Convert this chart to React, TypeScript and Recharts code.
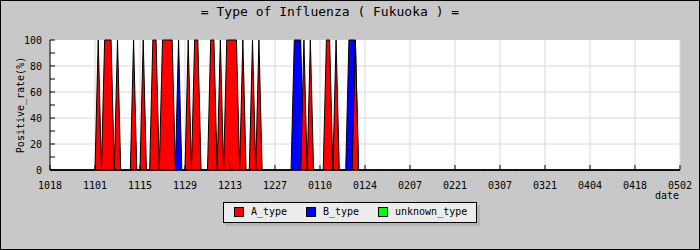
import React from 'react';
import { ComposedChart, Area, XAxis, YAxis, CartesianGrid } from 'recharts';

// days counted from 10/18
const tickDays = [0, 14, 28, 42, 56, 70, 84, 98, 112, 126, 140, 154, 168, 182, 196];
const tickLabels = ['1018', '1101', '1115', '1129', '1213', '1227', '0110', '0124', '0207', '0221', '0307', '0321', '0404', '0418', '0502'];

const aTypeDays = [15, 17, 18, 19, 21, 26, 29, 32, 33, 35, 36, 37, 38, 43, 45, 46, 50, 51, 53, 55, 56, 57, 58, 60, 63, 65, 79, 81, 86, 87, 89, 95];
const aTypeRates = [100, 100, 100, 100, 100, 100, 100, 100, 100, 100, 100, 100, 100, 100, 100, 100, 100, 100, 100, 100, 100, 100, 100, 100, 100, 100, 100, 100, 100, 100, 100, 100];
const bTypeDays = [40, 76, 77, 78, 93, 94, 95];
const bTypeRates = [100, 100, 100, 100, 100, 100, 100];
const unknownDays: number[] = [];
const unknownRates: number[] = [];

const yTicks = [0, 10, 20, 30, 40, 50, 60, 70, 80, 90, 100];
const yGrid = [20, 40, 60, 80];
const LAST_DAY = 196;

const FONT = '"DejaVu Sans Mono", monospace';

const rateOn = (days: number[], rates: number[], d: number) => {
  const i = days.indexOf(d);
  return i >= 0 ? rates[i] : 0;
};

const chartData = Array.from({ length: LAST_DAY + 1 }, (_, d) => ({
  day: d,
  A_type: rateOn(aTypeDays, aTypeRates, d),
  B_type: rateOn(bTypeDays, bTypeRates, d),
  unknown_type: rateOn(unknownDays, unknownRates, d),
}));

const legendItems = [
  { name: 'A_type', color: '#ff0000', box: 10, text: 27 },
  { name: 'B_type', color: '#0000ff', box: 82, text: 99 },
  { name: 'unknown_type', color: '#00ff00', box: 154, text: 171 },
];

// grid lines only at the labelled values (minor ticks stay tick marks)
const hLines = ({ offset }: any) => yGrid.map((v) => offset.top + offset.height * (1 - v / 100));
const vLines = ({ offset }: any) => tickDays.slice(1).map((d) => offset.left + (offset.width * d) / LAST_DAY);

const App: React.FC = () => {
  return (
    <div style={{ position: 'relative', width: 700, height: 250, background: '#c8c8c8', fontFamily: FONT }}>
      <style>{'body{margin:0}'}</style>
      <div style={{ position: 'absolute', left: 130, width: 400, top: 4, textAlign: 'center', fontSize: 13, lineHeight: '16px', color: '#000' }}>
        = Type of Influenza ( Fukuoka ) =
      </div>
      <div style={{ position: 'absolute', left: 0, top: 0 }}>
        <ComposedChart width={700} height={250} data={chartData} margin={{ top: 40, right: 20, bottom: 50, left: 0 }}>
          <CartesianGrid stroke="#d8d8d8" fill="#ffffff" horizontalCoordinatesGenerator={hLines} verticalCoordinatesGenerator={vLines} />
          <XAxis
            dataKey="day"
            type="number"
            domain={[0, LAST_DAY]}
            ticks={tickDays}
            tickFormatter={(v: number) => tickLabels[tickDays.indexOf(v)] ?? ''}
            interval={0}
            height={30}
            tickSize={-5}
            tickMargin={17}
            stroke="#000"
            tick={{ fill: '#000', fontSize: 10, fontFamily: FONT }}
            label={{ value: 'date', position: 'insideBottomRight', offset: 1, fill: '#000', fontSize: 10, fontFamily: FONT }}
          />
          <YAxis
            type="number"
            domain={[0, 100]}
            ticks={yTicks}
            interval={0}
            tickFormatter={(v: number) => (v % 20 === 0 ? String(v) : '')}
            width={50}
            tickSize={-5}
            tickMargin={13}
            stroke="#000"
            tick={{ fill: '#000', fontSize: 10, fontFamily: FONT }}
            label={{ value: 'Positive_rate(%)', angle: -90, position: 'center', dx: -5, fill: '#000', fontSize: 10, fontFamily: FONT }}
          />
          <Area type="linear" dataKey="B_type" stroke="#000" strokeWidth={1} fill="#0000ff" fillOpacity={1} isAnimationActive={false} dot={false} activeDot={false} />
          <Area type="linear" dataKey="A_type" stroke="#000" strokeWidth={1} fill="#ff0000" fillOpacity={1} isAnimationActive={false} dot={false} activeDot={false} />
          <Area type="linear" dataKey="unknown_type" stroke="#000" strokeWidth={1} fill="#00ff00" fillOpacity={1} isAnimationActive={false} dot={false} activeDot={false} />
        </ComposedChart>
      </div>
      <div
        style={{
          position: 'absolute', left: 223, top: 202, width: 254, height: 21, boxSizing: 'border-box',
          background: '#ececec', border: '1px solid #000', boxShadow: '3px 3px 0 #b4b4b4', fontSize: 10,
        }}
      >
        {legendItems.map((item) => (
          <React.Fragment key={item.name}>
            <span style={{ position: 'absolute', left: item.box, top: 4, width: 10, height: 10, boxSizing: 'border-box', background: item.color, border: '1px solid #000' }} />
            <span style={{ position: 'absolute', left: item.text, top: 3, lineHeight: '12px', color: '#000' }}>{item.name}</span>
          </React.Fragment>
        ))}
      </div>
      <div style={{ position: 'absolute', inset: 0, border: '1px solid #000', pointerEvents: 'none' }} />
    </div>
  );
};

export default App;
